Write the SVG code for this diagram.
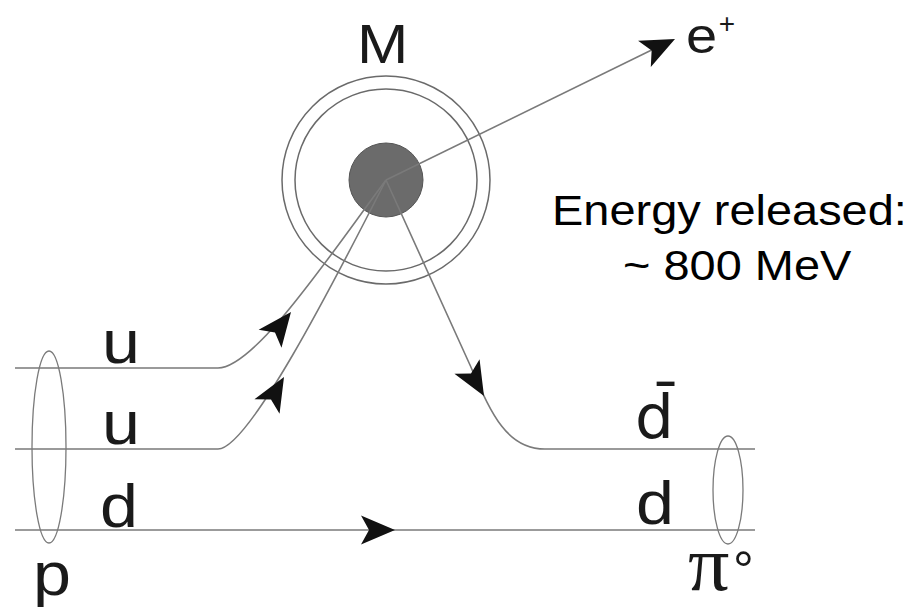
<svg xmlns="http://www.w3.org/2000/svg" xmlns:xlink="http://www.w3.org/1999/xlink" width="916" height="607" viewBox="0 0 916 607">
<defs>
<style>
.ln{fill:none;stroke:#7a7a7a;stroke-width:1.6}
.ring{fill:none;stroke:#6a6a6a;stroke-width:1.5}
.ell{fill:none;stroke:#7a7a7a;stroke-width:1.3}
.lbl{font-family:"Liberation Sans",Arial,sans-serif;font-size:62px;fill:#1a1a1a}
.big{font-family:"Liberation Sans",Arial,sans-serif;font-size:42px;fill:#000}
.ah{fill:#111}
</style>
<path id="ah" d="M0,0 L-34,-14.5 L-26,0 L-34,14.5 Z"/>
</defs>
<rect width="916" height="607" fill="#fff"/>

<g id="meson">
<circle class="ring" cx="386" cy="180" r="104"/>
<circle class="ring" cx="386" cy="180" r="91"/>
<circle cx="386" cy="180" r="37" fill="#6b6b6b" stroke="#555" stroke-width="1"/>
<text class="lbl" style="font-size:56px" transform="translate(357,63) scale(1.1,1)">M</text>
</g>

<g id="connectors">
<path class="ln" d="M386,180 L670,41"/>
<path class="ln" d="M15,368 L218,368 C255,368 330,255 386,180"/>
<path class="ln" d="M15,449 L218,449 C248,449 330,290 386,180"/>
<path class="ln" d="M386,180 L470,365 C490,410 505,449 545,449 L755,449"/>
<path class="ln" d="M15,530 L755,530"/>
<use href="#ah" class="ah" transform="translate(675,39) rotate(-26)"/>
<use href="#ah" class="ah" transform="translate(291,312) rotate(-52)"/>
<use href="#ah" class="ah" transform="translate(284,377) rotate(-60)"/>
<use href="#ah" class="ah" transform="translate(484,396) rotate(60)"/>
<use href="#ah" class="ah" transform="translate(395,530)"/>
</g>

<g id="proton">
<ellipse class="ell" cx="49" cy="447" rx="17" ry="96"/>
<text class="lbl" transform="translate(33,595) scale(1.1,1)">p</text>
</g>

<g id="pion">
<ellipse class="ell" cx="728" cy="490" rx="15" ry="54"/>
<text style="font-family:'Liberation Serif','Times New Roman',serif;font-size:76px;fill:#1a1a1a" transform="translate(688,590) scale(1.08,1.04)">π</text>
<text class="lbl" style="font-size:52px" transform="translate(733,588)">°</text>
</g>

<g id="quark-labels">
<text class="lbl" transform="translate(102,363) scale(1.1,1)">u</text>
<text class="lbl" transform="translate(102,444) scale(1.1,1)">u</text>
<text class="lbl" transform="translate(100,527) scale(1.1,1)">d</text>
<text class="lbl" style="font-family:'DejaVu Sans',sans-serif;font-size:60px" transform="translate(635,438) scale(1.02,1)">d̄</text>
<text class="lbl" transform="translate(636,524) scale(1.1,1)">d</text>
</g>

<g id="positron">
<text class="lbl" style="font-size:50px" transform="translate(686,53) scale(1.12,1)">e</text>
<text class="lbl" style="font-size:28px" text-anchor="middle" transform="translate(727,33)">+</text>
</g>

<g id="energy">
<text class="big" transform="translate(552,225) scale(1.118,1)">Energy released:</text>
<text class="big" transform="translate(623,280) scale(1.118,1)">~ 800 MeV</text>
</g>
</svg>
